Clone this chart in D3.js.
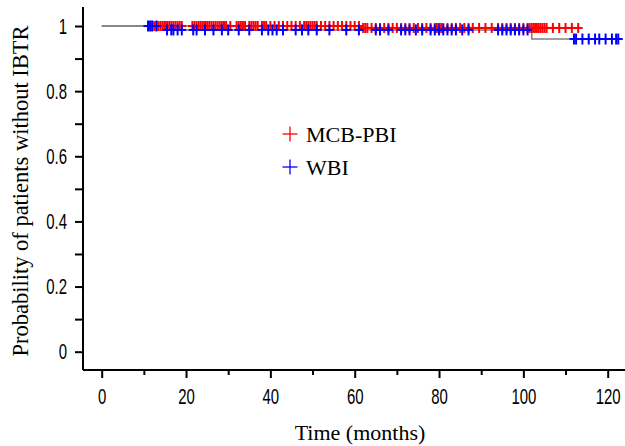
<!DOCTYPE html>
<html>
<head>
<meta charset="utf-8">
<script src="https://cdn.jsdelivr.net/npm/d3@7"></script>
<style>
body{margin:0;background:#fff;}
svg{display:block;}
.tick text{font-family:"Liberation Sans","DejaVu Sans",sans-serif;}
</style>
</head>
<body>
<svg id="chart" width="625" height="446"></svg>
<script>
// ---- data ----
const seriesNames = ["MCB-PBI", "WBI"];
const seriesColors = ["#ff0000", "#0000ff"];
// Kaplan-Meier steps: [time, survival]
const mcbSteps = [[0, 1], [62, 0.994], [113, 0.994]];
const wbiSteps = [[0, 1], [15.5, 0.988], [102, 0.96], [123, 0.96]];
// censor marks (months)
const mcbCensor = [11, 11.5, 12, 12.5, 13, 13.5, 14, 14.5, 15, 15.5, 16, 16.5, 17, 17.5, 18, 18.5, 19,
  21.5, 22, 22.5, 23, 23.5, 24, 24.5, 25, 25.5, 26, 26.5, 27, 27.5, 28, 28.5, 29, 29.5, 30.5,
  32, 32.5, 33, 33.5, 34, 35, 35.5, 36, 36.5, 37, 38, 38.5, 39, 40, 41, 42, 43, 44, 45, 46, 47,
  48, 48.5, 49, 49.5, 50, 50.5, 51, 52, 53, 54, 55, 56, 57, 58, 59, 60, 61, 62, 62.5, 63, 64, 65,
  66, 67, 68, 69, 70, 71, 72, 73, 74, 75, 76, 77, 78, 79, 79.5, 80, 80.5, 81, 82, 83, 84, 85, 86,
  87, 88, 89.5, 91, 92.5, 94, 95, 96, 97, 98, 99, 100, 101, 101.5, 102, 102.5, 103, 103.5, 104,
  104.5, 105, 105.5, 107, 108.5, 110, 111.5, 113];
const wbiCensor = [11, 11.5, 12, 13, 15.5, 16.5, 17, 18, 19, 21.7, 22.5, 24.5, 26.5, 28.5, 30,
  32.5, 35, 38, 39.5, 40.5, 41.5, 43, 46, 47.5, 49, 51, 54, 58, 61, 65, 66, 68, 71, 72, 73,
  74.5, 76, 78, 79, 80, 81, 82, 83, 84, 85.5, 87, 94, 95, 96, 97, 98, 99, 100, 101,
  112, 112.5, 114, 115.5, 117, 118, 119.5, 121, 122, 122.5];
const xTicks = [0, 20, 40, 60, 80, 100, 120];
const xMinor = [10, 30, 50, 70, 90, 110];
const yTicks = [0, 0.2, 0.4, 0.6, 0.8, 1];
const yMinor = [0.1, 0.3, 0.5, 0.7, 0.9];
const xTitle = "Time (months)";
const yTitle = "Probability of patients without IBTR";

// ---- layout ----
const svg = d3.select("#chart");
const x = d3.scaleLinear().domain([0, 120]).range([101.7, 607.7]);
const y = d3.scaleLinear().domain([0, 1]).range([351.7, 26]);
const axisX0 = 83, axisY0 = 370;
const narrow = 0.68;

// axes lines
svg.append("line").attr("x1", axisX0).attr("x2", axisX0).attr("y1", 7).attr("y2", axisY0)
  .attr("stroke", "#000").attr("stroke-width", 2);
svg.append("line").attr("x1", axisX0).attr("x2", 625).attr("y1", axisY0).attr("y2", axisY0)
  .attr("stroke", "#000").attr("stroke-width", 2);

const yAxis = d3.axisLeft(y).tickValues(yTicks).tickSize(8).tickPadding(8)
  .tickFormat(d => d === 0 ? "0" : d === 1 ? "1" : d3.format(".1f")(d));
const gy = svg.append("g").attr("transform", `translate(${axisX0},0)`).call(yAxis);
const yAxisMinor = d3.axisLeft(y).tickValues(yMinor).tickSize(8).tickFormat("");
const gym = svg.append("g").attr("transform", `translate(${axisX0},0)`).call(yAxisMinor);

const xAxis = d3.axisBottom(x).tickValues(xTicks).tickSize(8).tickPadding(10).tickFormat(d3.format("d"));
const gx = svg.append("g").attr("transform", `translate(0,${axisY0})`).call(xAxis);
const xAxisMinor = d3.axisBottom(x).tickValues(xMinor).tickSize(5).tickFormat("");
const gxm = svg.append("g").attr("transform", `translate(0,${axisY0})`).call(xAxisMinor);

[gy, gym, gx, gxm].forEach(g => {
  g.select(".domain").remove();
  g.selectAll(".tick line").attr("stroke", "#000").attr("stroke-width", 2);
  g.selectAll(".tick text").attr("fill", "#000").attr("font-size", 22)
    .each(function () {
      const t = d3.select(this);
      const ox = +t.attr("x") || 0;
      t.attr("x", ox / narrow).attr("transform", `scale(${narrow},1)`);
    });
});

// titles
svg.append("text").attr("x", 360).attr("y", 440).attr("text-anchor", "middle")
  .attr("font-family", "Liberation Serif, Times New Roman, serif").attr("font-size", 22).text(xTitle);
svg.append("text").attr("transform", "translate(28,191) rotate(-90)").attr("text-anchor", "middle")
  .attr("font-family", "Liberation Serif, Times New Roman, serif").attr("font-size", 22.5).text(yTitle);

// KM step lines
const line = d3.line().x(d => x(d[0])).y(d => y(d[1])).curve(d3.curveStepAfter);
[wbiSteps, mcbSteps].forEach(s => {
  svg.append("path").attr("d", line(s)).attr("fill", "none")
    .attr("stroke", "#808080").attr("stroke-width", 1.5);
});

function survAt(steps, t) {
  let v = steps[0][1];
  for (const s of steps) if (s[0] <= t) v = s[1];
  return v;
}
function plus(g, cx, cy, color, h, w, sw) {
  g.append("line").attr("x1", cx - w / 2).attr("x2", cx + w / 2).attr("y1", cy).attr("y2", cy)
    .attr("stroke", color).attr("stroke-width", sw);
  g.append("line").attr("x1", cx).attr("x2", cx).attr("y1", cy - h / 2).attr("y2", cy + h / 2)
    .attr("stroke", color).attr("stroke-width", sw);
}
const gm = svg.append("g");
mcbCensor.forEach(t => plus(gm, x(t), y(survAt(mcbSteps, t)), seriesColors[0], 10, 9, 2));
const gw = svg.append("g");
wbiCensor.forEach(t => plus(gw, x(t), y(survAt(wbiSteps, t)), seriesColors[1], 11, 9, 2));

// legend
const leg = svg.append("g");
seriesNames.forEach((n, i) => {
  const ly = 134 + i 	* 33;
  plus(leg, 290, ly, seriesColors[i], 15, 15, 1.3);
  leg.append("text").attr("x", 306).attr("y", ly + 8).attr("font-family", "Liberation Serif, Times New Roman, serif")
    .attr("font-size", 22).attr("fill", "#000").text(n);
});
</script>
</body>
</html>
